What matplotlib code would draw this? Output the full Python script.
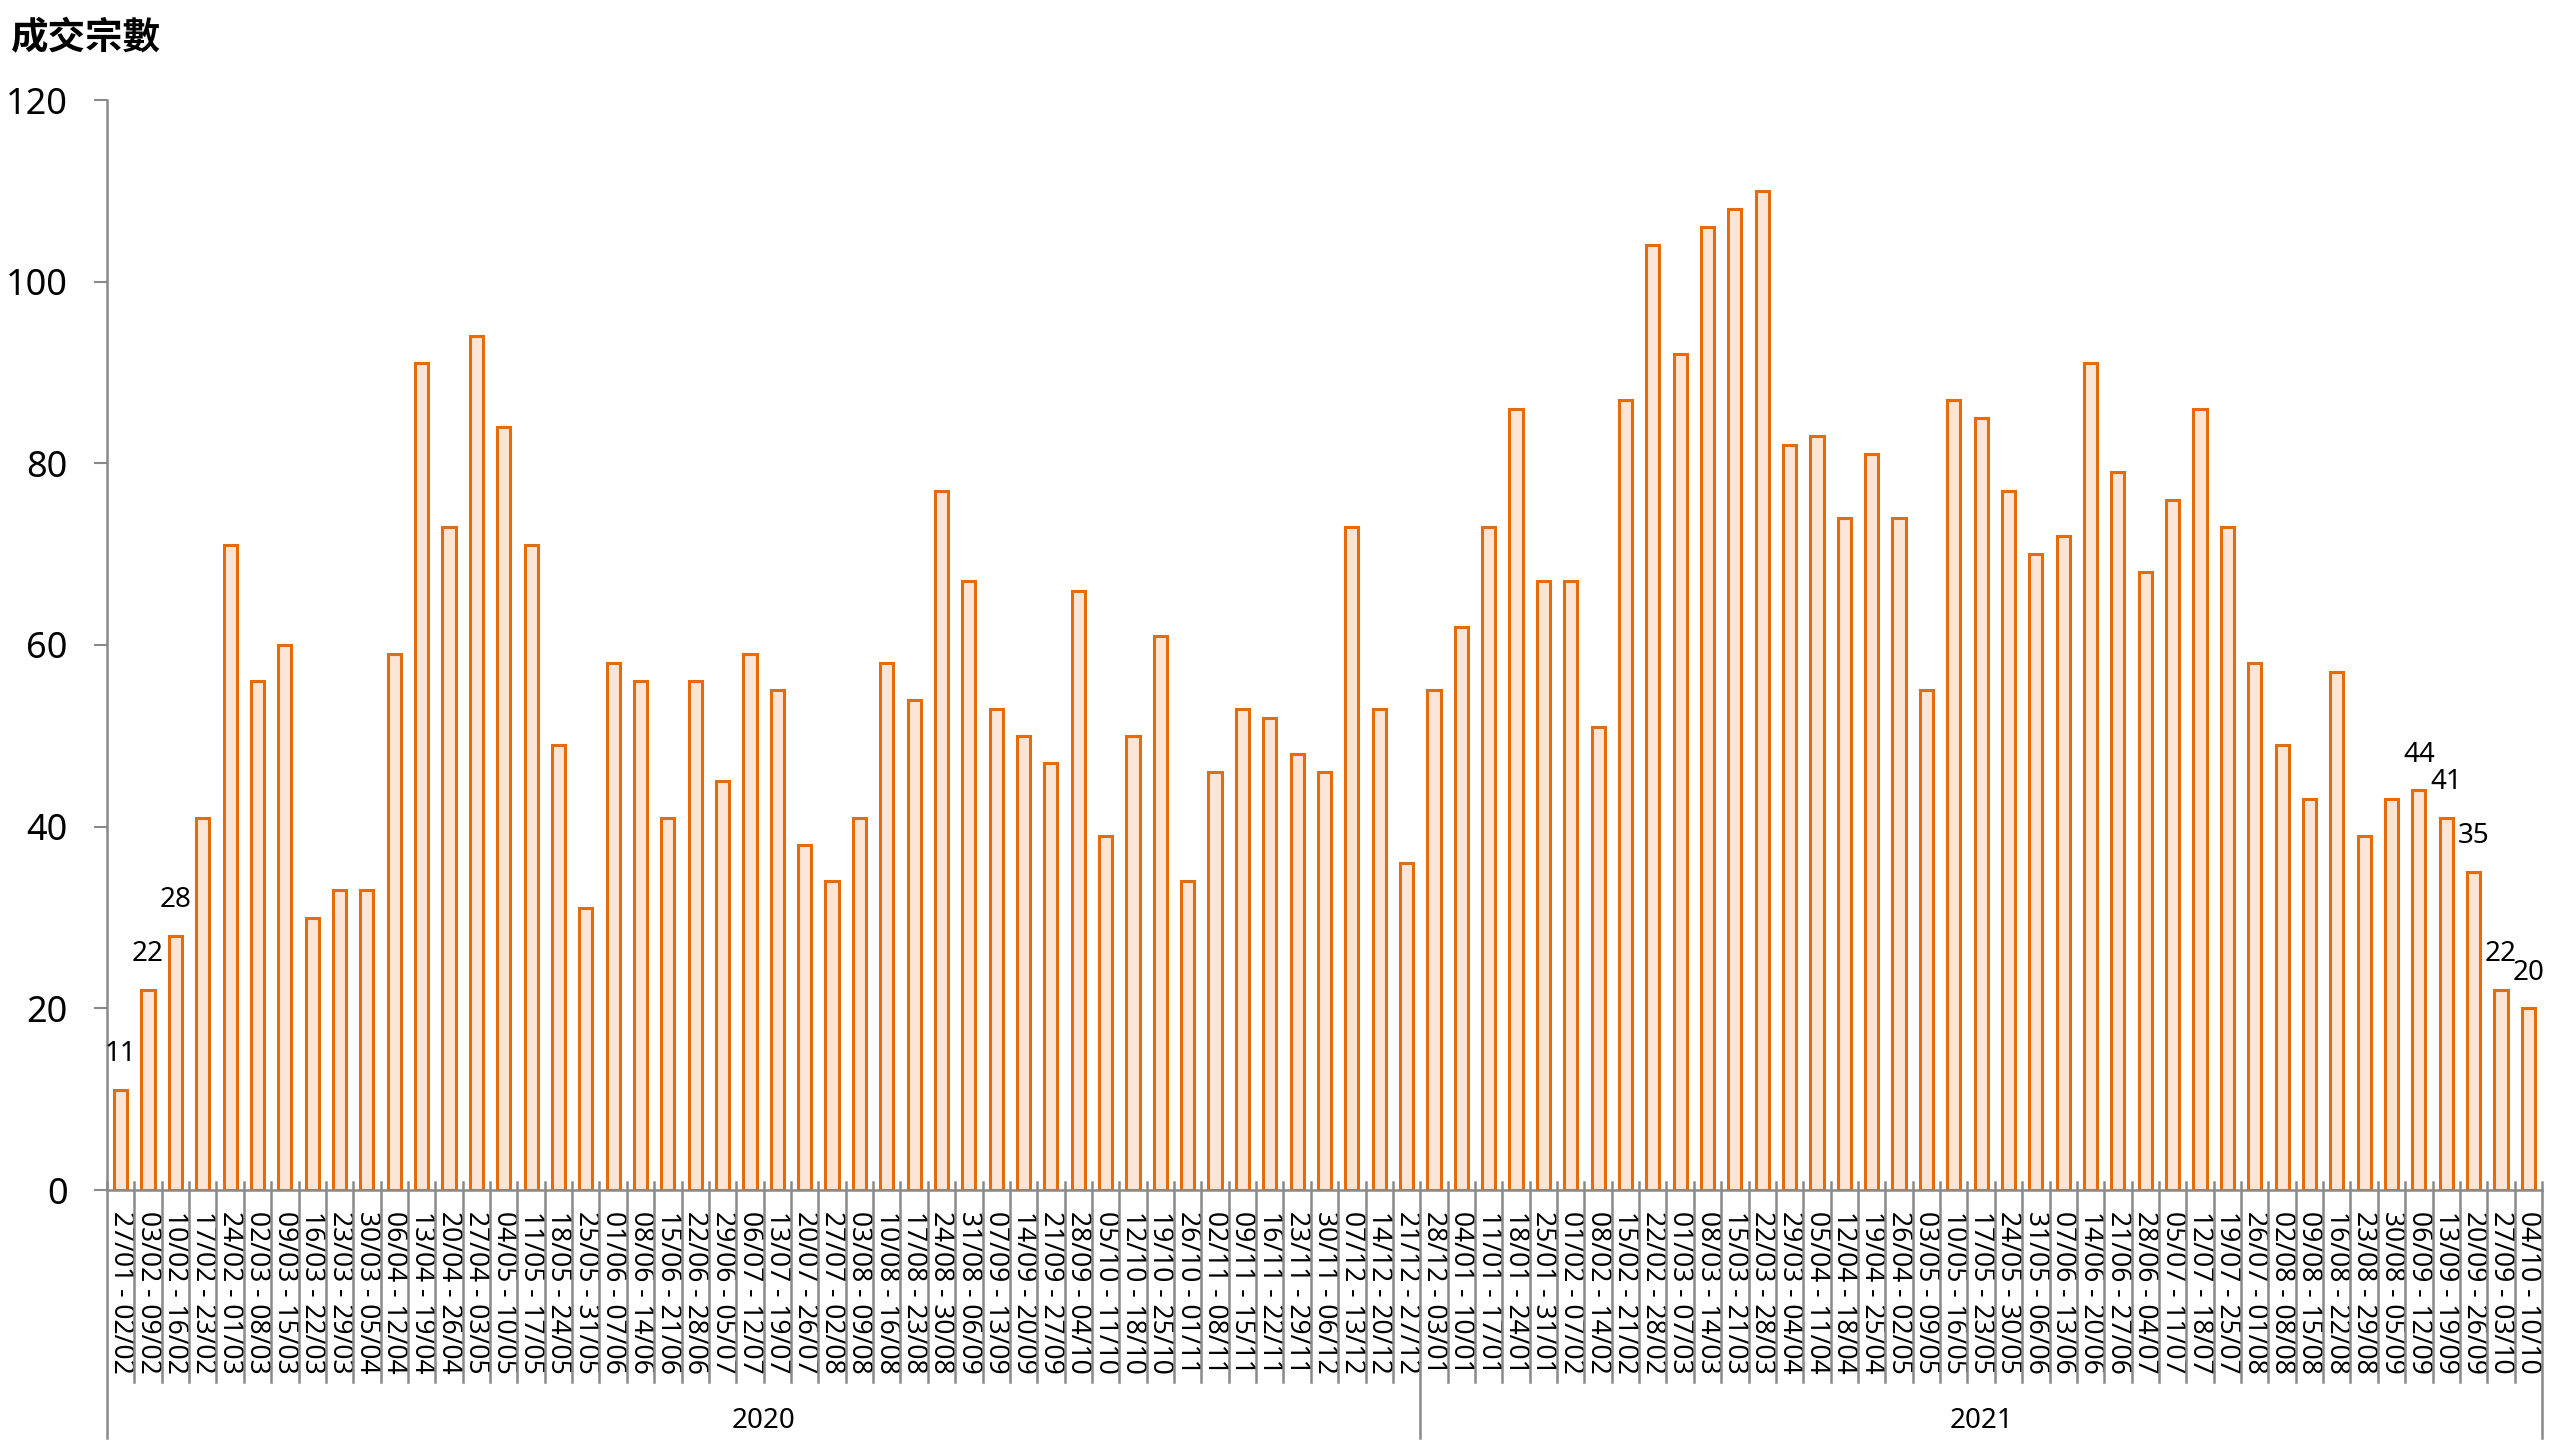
import matplotlib
matplotlib.use("Agg")
import numpy as np
from matplotlib import pyplot as plt

weeks_2020 = [
    "27/01 - 02/02", "03/02 - 09/02", "10/02 - 16/02", "17/02 - 23/02", "24/02 - 01/03",
    "02/03 - 08/03", "09/03 - 15/03", "16/03 - 22/03", "23/03 - 29/03", "30/03 - 05/04",
    "06/04 - 12/04", "13/04 - 19/04", "20/04 - 26/04", "27/04 - 03/05", "04/05 - 10/05",
    "11/05 - 17/05", "18/05 - 24/05", "25/05 - 31/05", "01/06 - 07/06", "08/06 - 14/06",
    "15/06 - 21/06", "22/06 - 28/06", "29/06 - 05/07", "06/07 - 12/07", "13/07 - 19/07",
    "20/07 - 26/07", "27/07 - 02/08", "03/08 - 09/08", "10/08 - 16/08", "17/08 - 23/08",
    "24/08 - 30/08", "31/08 - 06/09", "07/09 - 13/09", "14/09 - 20/09", "21/09 - 27/09",
    "28/09 - 04/10", "05/10 - 11/10", "12/10 - 18/10", "19/10 - 25/10", "26/10 - 01/11",
    "02/11 - 08/11", "09/11 - 15/11", "16/11 - 22/11", "23/11 - 29/11", "30/11 - 06/12",
    "07/12 - 13/12", "14/12 - 20/12", "21/12 - 27/12",
]
weeks_2021 = [
    "28/12 - 03/01", "04/01 - 10/01", "11/01 - 17/01", "18/01 - 24/01", "25/01 - 31/01",
    "01/02 - 07/02", "08/02 - 14/02", "15/02 - 21/02", "22/02 - 28/02", "01/03 - 07/03",
    "08/03 - 14/03", "15/03 - 21/03", "22/03 - 28/03", "29/03 - 04/04", "05/04 - 11/04",
    "12/04 - 18/04", "19/04 - 25/04", "26/04 - 02/05", "03/05 - 09/05", "10/05 - 16/05",
    "17/05 - 23/05", "24/05 - 30/05", "31/05 - 06/06", "07/06 - 13/06", "14/06 - 20/06",
    "21/06 - 27/06", "28/06 - 04/07", "05/07 - 11/07", "12/07 - 18/07", "19/07 - 25/07",
    "26/07 - 01/08", "02/08 - 08/08", "09/08 - 15/08", "16/08 - 22/08", "23/08 - 29/08",
    "30/08 - 05/09", "06/09 - 12/09", "13/09 - 19/09", "20/09 - 26/09", "27/09 - 03/10",
    "04/10 - 10/10",
]
deals_2020 = [11, 22, 28, 41, 71, 56, 60, 30, 33, 33, 59, 91, 73, 94, 84, 71, 49, 31,
              58, 56, 41, 56, 45, 59, 55, 38, 34, 41, 58, 54, 77, 67, 53, 50, 47, 66,
              39, 50, 61, 34, 46, 53, 52, 48, 46, 73, 53, 36]
deals_2021 = [55, 62, 73, 86, 67, 67, 51, 87, 104, 92, 106, 108, 110, 82, 83, 74, 81,
              74, 55, 87, 85, 77, 70, 72, 91, 79, 68, 76, 86, 73, 58, 49, 43, 57, 39,
              43, 44, 41, 35, 22, 20]
years = ["2020", "2021"]
# bars that carry a value label (indices into the full series)
labelled = [0, 1, 2, 84, 85, 86, 87, 88]

labels = weeks_2020 + weeks_2021
values = deals_2020 + deals_2021
n = len(values)
x = np.arange(n)

plt.rcParams['font.family'] = ['Noto Sans', 'Noto Sans CJK TC']
grey = '#898989'

fig = plt.figure(figsize=(25.6, 14.4), dpi=100)
ax = fig.add_axes([107 / 2560, 250 / 1440, 2435 / 2560, 1090 / 1440])

ax.bar(x, values, width=0.48, color='#FBE5D6', edgecolor='#E46C0A', linewidth=2.2, zorder=2)
for i in labelled:
    ax.text(x[i], values[i] + 2.4, str(values[i]), ha='center', va='bottom', fontsize=20)

ax.set_xlim(-0.5, n - 0.5)
ax.set_ylim(0, 120)
ax.set_yticks(range(0, 121, 20))
ax.tick_params(axis='y', direction='out', length=9.5, width=1.5, color=grey, pad=19, labelsize=26)

ax.set_xticks(x)
ax.set_xticklabels(labels, rotation=270, fontsize=19, va='top', ha='center')
ax.tick_params(axis='x', length=0, pad=15)

for side in ['top', 'right']:
    ax.spines[side].set_visible(False)
ax.spines['bottom'].set_color(grey)
ax.spines['left'].set_color(grey)
ax.spines['bottom'].set_linewidth(1.8)
ax.spines['left'].set_linewidth(1.8)

# category separators of the two-level axis
trans = ax.get_xaxis_transform()
split = len(deals_2020)
bounds = np.arange(n + 1) - 0.5
for b in bounds:
    bottom = -0.2275 if b in (-0.5, split - 0.5, n - 0.5) else -0.176
    ax.plot([b, b], [0.0073, bottom], transform=trans, color=grey, lw=1.8, clip_on=False)

ax.text((split - 1) / 2, -0.212, years[0], transform=trans, ha='center', va='center', fontsize=20)
ax.text((split + n - 1) / 2, -0.212, years[1], transform=trans, ha='center', va='center', fontsize=20)

fig.text(10 / 2560, 1 - 38 / 1440, '成交宗數', ha='left', va='center', fontsize=27,
         fontweight='bold', family=['Noto Sans CJK TC'])

plt.savefig('out.png', dpi=100)
